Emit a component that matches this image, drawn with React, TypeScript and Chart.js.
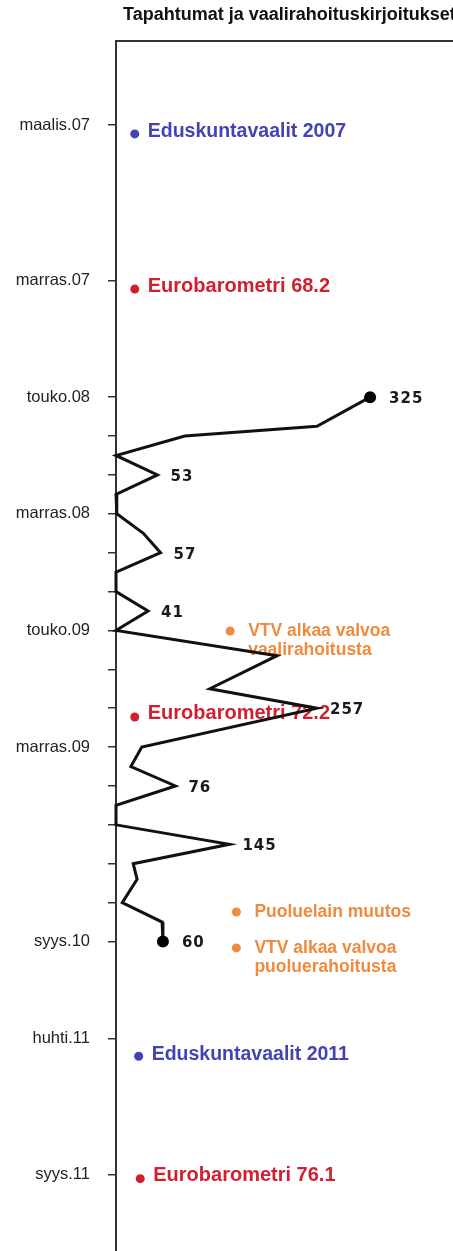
import React, { useEffect, useRef } from "react";
import { Chart, registerables } from "chart.js";

Chart.register(...registerables);

const titleText = "Tapahtumat ja vaalirahoituskirjoitukset";

// Month index on the vertical time axis: 0 = tammikuu 2007
const tickMonths = [2, 10, 16, 18, 20, 22, 24, 26, 28, 30, 32, 34, 36, 38, 40, 42, 44, 49, 56];
const tickLabels = [
  "maalis.07", "marras.07", "touko.08", "", "", "marras.08", "", "", "touko.09",
  "", "", "marras.09", "", "", "", "", "syys.10", "huhti.11", "syys.11",
];

// Kirjoitusten määrä (vaalirahoituskirjoitukset)
const lineMonths = [16, 17.5, 18, 19, 20, 21, 22, 23, 24, 25, 26, 27, 28, 29.3, 31, 32, 34, 35, 36, 37, 38, 39, 40, 40.8, 42, 43, 44];
const lineCounts = [325, 257, 88, 0, 53, 0, 1, 35, 57, 0, 0, 41, 0, 206, 120, 257, 33, 19, 76, 0, 0, 145, 22, 27, 8, 59, 60];
const labeledPointIndices = [0, 4, 8, 11, 15, 18, 21, 26];

// Tapahtumat
const blueEventNames = [["Eduskuntavaalit 2007"], ["Eduskuntavaalit 2011"]];
const blueEventMonths = [2.46, 49.9];
const blueEventCounts = [24, 29];

const redEventNames = [["Eurobarometri 68.2"], ["Eurobarometri 72.2"], ["Eurobarometri 76.1"]];
const redEventMonths = [10.44, 32.45, 56.2];
const redEventCounts = [24, 24, 31];

const orangeEventNames = [["VTV alkaa valvoa", "vaalirahoitusta"], ["Puoluelain muutos"], ["VTV alkaa valvoa", "puoluerahoitusta"]];
const orangeEventMonths = [28.03, 42.48, 44.33];
const orangeEventCounts = [146, 154, 154];

// Axis ranges
const monthMin = -2.32;
const monthMax = 59.92;
const countMax = 431;

const eventGroups = [
  { names: blueEventNames, months: blueEventMonths, counts: blueEventCounts, color: "#4343b4", size: 19.5, dx: 13, dy: -2, gap: 20 },
  { names: redEventNames, months: redEventMonths, counts: redEventCounts, color: "#d21f2e", size: 20, dx: 13, dy: -3, gap: 20 },
  { names: orangeEventNames, months: orangeEventMonths, counts: orangeEventCounts, color: "#ef8a3e", size: 17.5, dx: 18, dy: 0, gap: 19 },
];

const timelinePlugin = {
  id: "timelineDecor",
  beforeDatasetsDraw(chart: any) {
    const ctx = chart.ctx;
    const { top, left, right } = chart.chartArea;
    ctx.save();
    // title
    ctx.font = "bold 18px 'Liberation Sans', Arial, sans-serif";
    ctx.fillStyle = "#111";
    ctx.textAlign = "left";
    ctx.textBaseline = "middle";
    ctx.fillText(titleText, 123, 15);
    // top frame line
    ctx.strokeStyle = "#333";
    ctx.lineWidth = 2;
    ctx.beginPath();
    ctx.moveTo(left, top);
    ctx.lineTo(right, top);
    ctx.stroke();
    // event texts
    eventGroups.forEach((g, gi) => {
      const meta = chart.getDatasetMeta(gi + 1);
      ctx.font = `bold ${g.size}px 'Liberation Sans', Arial, sans-serif`;
      ctx.fillStyle = g.color;
      meta.data.forEach((pt: any, i: number) => {
        g.names[i].forEach((line: string, li: number) => {
          ctx.fillText(line, pt.x + g.dx, pt.y + g.dy + li * g.gap);
        });
      });
    });
    ctx.restore();
  },
  afterDatasetsDraw(chart: any) {
    const ctx = chart.ctx;
    const meta = chart.getDatasetMeta(0);
    ctx.save();
    ctx.font = "bold 15px 'DejaVu Sans', Verdana, sans-serif";
    (ctx as any).letterSpacing = "1px";
    ctx.fillStyle = "#1a1a1a";
    ctx.textAlign = "left";
    ctx.textBaseline = "middle";
    const last = lineCounts.length - 1;
    labeledPointIndices.forEach((i) => {
      const pt = meta.data[i];
      const dx = i === 0 || i === last ? 19 : 13;
      ctx.fillText(String(lineCounts[i]), pt.x + dx, pt.y + 2);
    });
    ctx.restore();
  },
};

export default function App() {
  const canvasRef = useRef<HTMLCanvasElement | null>(null);

  useEffect(() => {
    const canvas = canvasRef.current;
    if (!canvas) return;
    const last = lineCounts.length - 1;
    const chart = new Chart(canvas, {
      type: "line",
      data: {
        datasets: [
          {
            label: "Kirjoitukset",
            data: lineMonths.map((m, i) => ({ x: lineCounts[i], y: m })),
            borderColor: "#111",
            borderWidth: 3,
            tension: 0,
            clip: false,
            pointRadius: lineCounts.map((_, i) => (i === 0 || i === last ? 6 : 0)),
            pointBackgroundColor: "#000",
            pointBorderWidth: 0,
          } as any,
          ...eventGroups.map((g) => ({
            label: "Tapahtumat",
            data: g.months.map((m, i) => ({ x: g.counts[i], y: m })),
            showLine: false,
            pointRadius: 4.5,
            pointBackgroundColor: g.color,
            pointBorderWidth: 0,
            clip: false,
          } as any)),
        ],
      },
      options: {
        animation: false,
        responsive: false,
        indexAxis: "y",
        layout: { autoPadding: false, padding: { top: 41, left: 0, right: 0, bottom: 0 } },
        plugins: {
          legend: { display: false },
          title: { display: false },
          tooltip: { enabled: false },
        },
        scales: {
          x: {
            type: "linear",
            display: false,
            min: 0,
            max: countMax,
          },
          y: {
            type: "linear",
            reverse: true,
            min: monthMin,
            max: monthMax,
            afterBuildTicks: (scale: any) => {
              scale.ticks = tickMonths.map((v) => ({ value: v }));
            },
            afterFit: (scale: any) => {
              scale.width = 116;
              scale.paddingTop = 0;
              scale.paddingBottom = 0;
            },
            ticks: {
              autoSkip: false,
              padding: 18,
              color: "#222",
              font: { family: "'Liberation Sans', Arial, sans-serif", size: 16.5 },
              callback: (value: any) => {
                const idx = tickMonths.indexOf(Number(value));
                return idx >= 0 ? tickLabels[idx] : "";
              },
            },
            grid: {
              display: true,
              drawOnChartArea: false,
              drawTicks: true,
              tickLength: 8,
              color: "#333",
              lineWidth: 1.5,
            },
            border: { display: true, color: "#333", width: 2 },
          },
        },
      } as any,
      plugins: [timelinePlugin as any],
    });
    return () => chart.destroy();
  }, []);

  return (
    <div style={{ position: "fixed", left: 0, top: 0, width: 453, height: 1251, background: "#fff" }}>
      <canvas ref={canvasRef} width={453} height={1251} style={{ width: 453, height: 1251, display: "block" }} />
    </div>
  );
}
